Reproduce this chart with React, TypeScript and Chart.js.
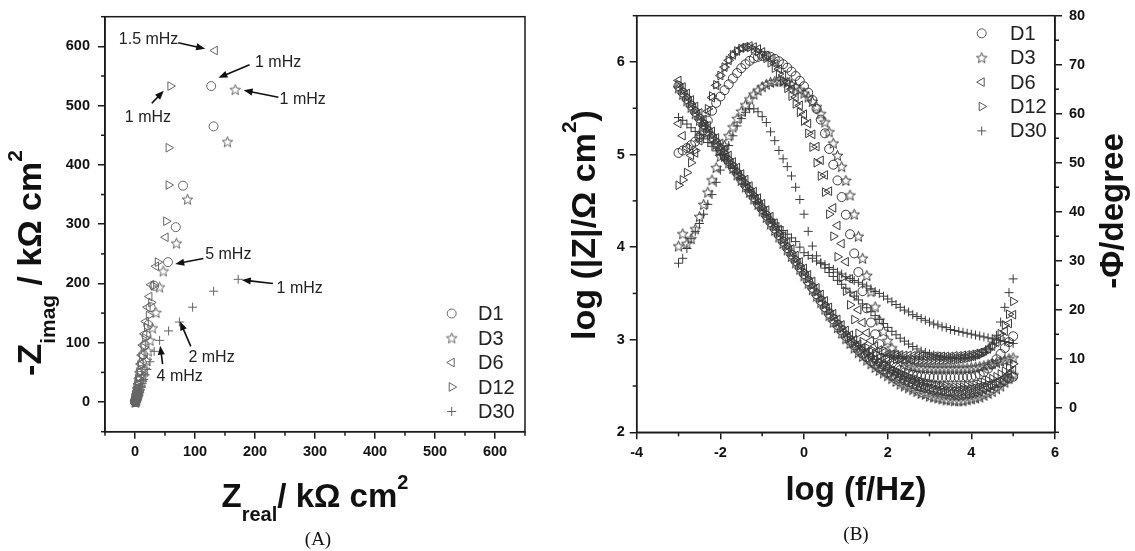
import React, { useEffect, useRef } from 'react';
import { Chart, registerables } from 'chart.js';
import { drawPoint } from 'chart.js/helpers';

Chart.register(...registerables);

const FONT = "'Liberation Sans', Arial, Helvetica, sans-serif";
const SERIF = "'Liberation Serif', 'Times New Roman', serif";
const INK = '#1a1a1a';
const MARK_A = '#666666';
const MARK_B = '#3a3a3a';

const SERIES = ['D1', 'D3', 'D6', 'D12', 'D30'];

// ---------- Panel A : Nyquist (kOhm cm2) ----------
const NYQ_D1_X = [0.2, 0.3, 0.4, 0.5, 0.6, 0.8, 1.0, 1.3, 1.7, 2.2, 2.8, 3.5, 4.4, 5.4, 6.6, 8.0, 9.6, 11.5, 13.5, 16, 19, 22, 26, 32, 55, 68, 80, 131, 127];
const NYQ_D1_Y = [0.1, 0.3, 0.6, 1.0, 1.6, 2.4, 3.5, 5, 7, 9.5, 13, 17, 22, 28, 35, 44, 54, 66, 80, 96, 112, 130, 160, 196, 236, 295, 365, 465, 533];
const NYQ_D3_X = [0.5, 0.7, 0.9, 1.2, 1.5, 1.9, 2.4, 3.0, 3.8, 4.8, 6.0, 7.4, 9.0, 11, 13.5, 16, 19, 22, 25, 29, 35, 41, 47, 69, 87.5, 154, 167];
const NYQ_D3_Y = [0.1, 0.3, 0.6, 1.0, 1.6, 2.5, 3.6, 5.2, 7.3, 10, 14, 19, 25, 33, 43, 55, 70, 86, 104, 125, 151, 194, 221, 268, 342, 439, 527];
const NYQ_D6_X = [0.1, 0.2, 0.3, 0.4, 0.5, 0.7, 0.9, 1.2, 1.5, 2.0, 2.5, 3.2, 4.0, 5.0, 6.2, 7.6, 9.2, 11, 13, 15.5, 18, 21, 24, 27, 35, 51, 133];
const NYQ_D6_Y = [0.1, 0.3, 0.6, 1.0, 1.5, 2.3, 3.4, 5.0, 7, 10, 13.5, 18, 24, 31, 40, 51, 64, 79, 96, 115, 136, 160, 178, 198, 229, 278, 593];
const NYQ_D12_X = [0.1, 0.2, 0.3, 0.4, 0.6, 0.8, 1.0, 1.3, 1.7, 2.2, 2.8, 3.5, 4.3, 5.3, 6.5, 8.0, 9.8, 12, 14.5, 17, 20, 23, 27, 31, 38, 52, 56, 56, 59];
const NYQ_D12_Y = [0.1, 0.3, 0.6, 1.0, 1.5, 2.3, 3.4, 5.0, 7, 10, 13.5, 18, 24, 31, 40, 50, 62, 76, 92, 108, 126, 146, 168, 196, 236, 305, 366, 429, 533];
const NYQ_D30_X = [0.3, 0.5, 0.7, 1.0, 1.3, 1.7, 2.2, 2.8, 3.5, 4.4, 5.5, 6.8, 8.3, 10, 12, 14.5, 17, 20, 25, 32, 41, 56, 74, 96, 131, 172];
const NYQ_D30_Y = [0.1, 0.3, 0.6, 1.0, 1.6, 2.4, 3.5, 5, 7, 9.5, 12.5, 16, 20, 25, 31, 38, 46, 55, 68, 85.5, 104, 120, 135, 160, 187, 207];

const NYQ_TICKS = [0, 100, 200, 300, 400, 500, 600];
const NYQ_MINOR = [-50, 50, 150, 250, 350, 450, 550, 650];

// annotation labels (data units): text anchor, arrow from -> to
const NYQ_NOTES = [
  { text: '1.5 mHz', tx: -27, ty: 611, fx: 72, fy: 606, ex: 117, ey: 596 },
  { text: '1 mHz', tx: 200, ty: 572, fx: 191, fy: 569, ex: 139, ey: 547 },
  { text: '1 mHz', tx: 241, ty: 511, fx: 239, fy: 514, ex: 181, ey: 526 },
  { text: '1 mHz', tx: -17, ty: 479, fx: 28, fy: 504, ex: 48, ey: 525 },
  { text: '5 mHz', tx: 117, ty: 248, fx: 114, fy: 242, ex: 67, ey: 233 },
  { text: '1 mHz', tx: 236, ty: 191, fx: 230, fy: 200, ex: 178, ey: 206 },
  { text: '2 mHz', tx: 89, ty: 75, fx: 93, fy: 94, ex: 75, ey: 136 },
  { text: '4 mHz', tx: 36, ty: 43, fx: 46, fy: 64, ex: 42, ey: 95 },
];

// ---------- Panel B : Bode ----------
const LOG_F = [
  -3, -2.9, -2.8, -2.7, -2.6, -2.5, -2.4, -2.3, -2.2, -2.1,
  -2, -1.9, -1.8, -1.7, -1.6, -1.5, -1.4, -1.3, -1.2, -1.1,
  -1, -0.9, -0.8, -0.7, -0.6, -0.5, -0.4, -0.3, -0.2, -0.1,
  0, 0.1, 0.2, 0.3, 0.4, 0.5, 0.6, 0.7, 0.8, 0.9,
  1, 1.1, 1.2, 1.3, 1.4, 1.5, 1.6, 1.7, 1.8, 1.9,
  2, 2.1, 2.2, 2.3, 2.4, 2.5, 2.6, 2.7, 2.8, 2.9,
  3, 3.1, 3.2, 3.3, 3.4, 3.5, 3.6, 3.7, 3.8, 3.9,
  4, 4.1, 4.2, 4.3, 4.4, 4.5, 4.6, 4.7, 4.8, 4.9, 5,
];

const LOGZ_D1 = [
  5.74, 5.67, 5.60, 5.53, 5.46, 5.39, 5.32, 5.25, 5.19, 5.12,
  5.06, 4.99, 4.93, 4.86, 4.80, 4.73, 4.67, 4.60, 4.54, 4.47,
  4.41, 4.34, 4.27, 4.20, 4.13, 4.06, 3.99, 3.92, 3.85, 3.78,
  3.71, 3.63, 3.56, 3.49, 3.42, 3.35, 3.28, 3.22, 3.16, 3.10,
  3.04, 2.99, 2.94, 2.89, 2.85, 2.81, 2.77, 2.74, 2.71, 2.68,
  2.65, 2.62, 2.60, 2.58, 2.56, 2.54, 2.52, 2.50, 2.49, 2.48,
  2.47, 2.46, 2.45, 2.45, 2.44, 2.44, 2.44, 2.44, 2.45, 2.45,
  2.46, 2.47, 2.48, 2.49, 2.50, 2.51, 2.53, 2.54, 2.56, 2.58, 2.60,
];
const LOGZ_D3 = [
  5.72, 5.65, 5.58, 5.51, 5.44, 5.37, 5.30, 5.24, 5.17, 5.11,
  5.04, 4.98, 4.91, 4.85, 4.78, 4.72, 4.65, 4.59, 4.52, 4.46,
  4.39, 4.32, 4.25, 4.18, 4.11, 4.04, 3.97, 3.90, 3.83, 3.76,
  3.69, 3.61, 3.54, 3.47, 3.40, 3.33, 3.26, 3.19, 3.13, 3.07,
  3.01, 2.96, 2.91, 2.86, 2.82, 2.78, 2.74, 2.70, 2.67, 2.64,
  2.61, 2.58, 2.55, 2.52, 2.50, 2.48, 2.46, 2.44, 2.42, 2.41,
  2.39, 2.38, 2.37, 2.36, 2.35, 2.35, 2.34, 2.34, 2.34, 2.35,
  2.36, 2.37, 2.38, 2.40, 2.42, 2.44, 2.47, 2.50, 2.54, 2.58, 2.62,
];
const LOGZ_D6 = [
  5.80, 5.73, 5.66, 5.59, 5.52, 5.45, 5.38, 5.31, 5.25, 5.18,
  5.12, 5.05, 4.99, 4.92, 4.86, 4.79, 4.73, 4.66, 4.60, 4.53,
  4.47, 4.40, 4.33, 4.26, 4.19, 4.12, 4.05, 3.98, 3.91, 3.84,
  3.77, 3.70, 3.63, 3.56, 3.49, 3.42, 3.35, 3.28, 3.22, 3.16,
  3.10, 3.05, 3.00, 2.95, 2.91, 2.87, 2.83, 2.79, 2.76, 2.73,
  2.70, 2.67, 2.64, 2.61, 2.59, 2.57, 2.55, 2.53, 2.51, 2.49,
  2.48, 2.46, 2.45, 2.44, 2.43, 2.42, 2.41, 2.41, 2.41, 2.41,
  2.42, 2.43, 2.44, 2.46, 2.48, 2.50, 2.53, 2.56, 2.59, 2.63, 2.67,
];
const LOGZ_D12 = [
  5.76, 5.69, 5.62, 5.55, 5.48, 5.41, 5.35, 5.28, 5.21, 5.15,
  5.08, 5.02, 4.95, 4.89, 4.82, 4.76, 4.69, 4.63, 4.56, 4.50,
  4.43, 4.36, 4.29, 4.22, 4.15, 4.08, 4.01, 3.94, 3.87, 3.80,
  3.73, 3.66, 3.59, 3.52, 3.45, 3.38, 3.31, 3.25, 3.19, 3.13,
  3.07, 3.02, 2.97, 2.93, 2.89, 2.85, 2.82, 2.79, 2.76, 2.73,
  2.71, 2.68, 2.66, 2.64, 2.62, 2.60, 2.58, 2.57, 2.55, 2.54,
  2.53, 2.52, 2.51, 2.50, 2.50, 2.49, 2.49, 2.49, 2.49, 2.50,
  2.50, 2.51, 2.52, 2.54, 2.56, 2.58, 2.60, 2.63, 2.66, 2.70, 2.74,
];
const LOGZ_D30 = [
  5.40, 5.37, 5.33, 5.29, 5.25, 5.21, 5.17, 5.13, 5.09, 5.04,
  5.00, 4.95, 4.90, 4.85, 4.80, 4.74, 4.68, 4.62, 4.56, 4.48,
  4.40, 4.35, 4.30, 4.26, 4.22, 4.18, 4.14, 4.10, 4.06, 4.00,
  3.94, 3.91, 3.88, 3.85, 3.83, 3.81, 3.78, 3.76, 3.73, 3.71,
  3.68, 3.66, 3.64, 3.62, 3.60, 3.58, 3.55, 3.52, 3.50, 3.47,
  3.44, 3.41, 3.38, 3.35, 3.32, 3.30, 3.27, 3.25, 3.23, 3.21,
  3.19, 3.17, 3.16, 3.14, 3.13, 3.11, 3.10, 3.09, 3.08, 3.07,
  3.06, 3.05, 3.04, 3.03, 3.02, 3.01, 3.00, 2.99, 2.98, 2.97, 2.96,
];

const PHASE_D1 = [
  52.0, 52.5, 53.0, 53.6, 54.3, 55.2, 56.6, 58.6, 60.6, 62.2,
  63.5, 64.8, 66.0, 67.2, 68.3, 69.3, 70.1, 70.8, 71.3, 71.6,
  71.8, 71.8, 71.6, 71.2, 70.7, 70.1, 69.4, 68.6, 67.7, 66.7,
  65.6, 64.3, 62.8, 61.0, 58.8, 56.0, 52.8, 49.6, 46.4, 43.0,
  39.4, 35.4, 31.5, 27.7, 23.8, 20.3, 17.4, 15.0, 13.0, 11.4,
  10.1, 9.1, 8.3, 7.7, 7.2, 6.9, 6.7, 6.5, 6.4, 6.3,
  6.3, 6.2, 6.2, 6.2, 6.2, 6.2, 6.2, 6.2, 6.2, 6.3,
  6.3, 6.5, 6.8, 7.3, 8.0, 8.9, 9.9, 11.0, 12.2, 13.4, 14.6,
];
const PHASE_D3 = [
  33.0, 35.5, 33.5, 34.5, 36.5, 39.0, 41.5, 44.0, 46.5, 49.0,
  51.3, 53.5, 55.5, 57.3, 59.0, 60.5, 61.8, 63.0, 64.0, 64.8,
  65.5, 66.0, 66.4, 66.6, 66.7, 66.6, 66.4, 66.0, 65.5, 64.9,
  64.2, 63.4, 62.5, 61.4, 60.0, 58.3, 56.3, 54.0, 51.5, 49.2,
  46.4, 43.4, 39.5, 35.0, 30.5, 27.0, 23.7, 20.6, 17.9, 15.6,
  13.7, 12.2, 11.0, 10.0, 9.3, 8.8, 8.5, 8.3, 8.2, 8.2,
  8.1, 8.1, 8.1, 8.1, 8.1, 8.1, 8.1, 8.1, 8.1, 8.1,
  8.2, 8.3, 8.4, 8.6, 8.8, 9.0, 9.2, 9.5, 9.7, 10.0, 10.2,
];
const PHASE_D6 = [
  58.0, 55.5, 53.0, 51.5, 52.0, 54.5, 57.5, 60.5, 63.3, 65.8,
  67.8, 69.5, 70.9, 72.0, 72.8, 73.4, 73.7, 73.8, 73.6, 73.2,
  72.6, 71.9, 71.1, 70.2, 69.1, 67.9, 66.5, 65.0, 63.4, 61.7,
  59.9, 58.0, 55.8, 53.3, 50.5, 47.5, 44.2, 40.8, 37.2, 33.5,
  29.8, 26.3, 23.0, 20.0, 17.4, 15.3, 13.7, 12.6, 11.8, 11.3,
  11.0, 10.9, 10.8, 10.8, 10.7, 10.7, 10.6, 10.6, 10.6, 10.5,
  10.5, 10.5, 10.5, 10.5, 10.5, 10.5, 10.6, 10.6, 10.7, 10.8,
  10.9, 11.1, 11.3, 11.6, 12.0, 12.6, 13.4, 14.4, 15.6, 17.2, 19.0,
];
const PHASE_D12 = [
  45.4, 46.5, 48.0, 50.0, 52.5, 55.3, 58.2, 61.0, 63.6, 65.9,
  67.8, 69.5, 70.9, 72.0, 72.8, 73.3, 73.5, 73.5, 73.2, 72.7,
  72.1, 71.3, 70.4, 69.3, 68.1, 66.7, 65.2, 63.6, 62.0, 60.3,
  58.5, 56.0, 53.2, 50.0, 47.3, 44.0, 39.5, 35.0, 30.8, 26.5,
  23.8, 21.0, 18.0, 15.2, 13.5, 12.3, 11.5, 11.0, 10.6, 10.3,
  10.1, 10.0, 9.9, 9.9, 9.8, 9.8, 9.8, 9.7, 9.7, 9.7,
  9.7, 9.7, 9.7, 9.7, 9.7, 9.8, 9.8, 9.9, 10.0, 10.1,
  10.3, 10.5, 10.8, 11.2, 11.8, 12.6, 13.7, 15.1, 16.9, 19.1, 21.7,
];
const PHASE_D30 = [
  29.5, 30.5, 32.5, 34.5, 36.0, 37.6, 39.5, 41.5, 43.5, 46.0,
  48.5, 51.0, 53.5, 55.5, 57.5, 59.0, 60.3, 61.0, 61.0, 60.4,
  59.4, 58.2, 56.3, 54.5, 52.5, 50.8, 49.2, 47.3, 45.0, 42.5,
  39.5, 36.0, 33.0, 31.0, 29.5, 28.5, 27.6, 26.8, 26.0, 25.2,
  24.4, 23.6, 22.8, 22.0, 21.2, 20.4, 19.6, 18.8, 18.0, 17.2,
  16.4, 15.6, 14.9, 14.2, 13.6, 13.0, 12.5, 12.0, 11.6, 11.3,
  11.0, 10.8, 10.6, 10.4, 10.3, 10.2, 10.1, 10.1, 10.1, 10.2,
  10.3, 10.5, 10.8, 11.3, 12.0, 13.0, 14.8, 17.5, 20.5, 23.5, 26.3,
];

const BODE_X_TICKS = [-4, -2, 0, 2, 4, 6];
const BODE_X_MINOR = [-3, -1, 1, 3, 5];
const BODE_Z_TICKS = [2, 3, 4, 5, 6];
const BODE_Z_MINOR = [2.5, 3.5, 4.5, 5.5, 6.5];
const BODE_P_TICKS = [0, 10, 20, 30, 40, 50, 60, 70, 80];
const BODE_P_MINOR = [-5, 5, 15, 25, 35, 45, 55, 65, 75];

// ---------- helpers ----------
type Mk = { pointStyle: any; radius: number; rotation: number };

function makeStar(color: string): HTMLCanvasElement {
  const c = document.createElement('canvas');
  c.width = 13;
  c.height = 13;
  const g = c.getContext('2d')!;
  g.strokeStyle = color;
  g.lineWidth = 1;
  g.beginPath();
  for (let k = 0; k < 10; k++) {
    const r = k % 2 === 0 ? 5.6 : 2.4;
    const a = -Math.PI / 2 + (k * Math.PI) / 5;
    const x = 6.5 + r * Math.cos(a);
    const y = 7 + r * Math.sin(a);
    if (k === 0) g.moveTo(x, y);
    else g.lineTo(x, y);
  }
  g.closePath();
  g.stroke();
  return c;
}

function markers(color: string): Mk[] {
  const star = makeStar(color);
  return [
    { pointStyle: 'circle', radius: 4.5, rotation: 0 },
    { pointStyle: star, radius: 5, rotation: 0 },
    { pointStyle: 'triangle', radius: 5, rotation: -90 },
    { pointStyle: 'triangle', radius: 5, rotation: 90 },
    { pointStyle: 'cross', radius: 4.5, rotation: 0 },
  ];
}

function ds(label: string, xs: number[], ys: number[], mk: Mk, yAxisID: string, color: string) {
  return {
    label,
    data: xs.map((x, i) => ({ x, y: ys[i] })),
    showLine: false,
    pointStyle: mk.pointStyle,
    pointRadius: mk.radius,
    pointHoverRadius: mk.radius,
    pointRotation: mk.rotation,
    pointBorderColor: color,
    pointBackgroundColor: 'rgba(0,0,0,0)',
    pointBorderWidth: 1,
    yAxisID,
  };
}

function axis(min: number, max: number, ticks: number[], position: string, size: number, padding: number) {
  return {
    type: 'linear',
    position,
    min,
    max,
    afterBuildTicks: (s: any) => {
      s.ticks = ticks.map((v) => ({ value: v }));
    },
    afterFit: (s: any) => {
      if (position === 'bottom') s.height = size;
      else s.width = size;
    },
    grid: { drawOnChartArea: false, drawTicks: true, tickLength: 7, color: INK, lineWidth: 1.5 },
    border: { display: true, color: INK, width: 1.5 },
    ticks: { color: '#111', font: { family: FONT, size: 14.5, weight: 'bold' }, padding, autoSkip: false, maxRotation: 0, minRotation: 0 },
  };
}

type Seg = { t: string; s: number; dy: number };

function drawRich(ctx: CanvasRenderingContext2D, segs: Seg[], cx: number, cy: number, rot: boolean) {
  ctx.save();
  ctx.translate(cx, cy);
  if (rot) ctx.rotate(-Math.PI / 2);
  let total = 0;
  for (const g of segs) {
    ctx.font = `bold ${g.s}px ${FONT}`;
    total += ctx.measureText(g.t).width;
  }
  let x = -total / 2;
  ctx.textAlign = 'left';
  ctx.textBaseline = 'alphabetic';
  ctx.fillStyle = '#111';
  for (const g of segs) {
    ctx.font = `bold ${g.s}px ${FONT}`;
    ctx.fillText(g.t, x, g.dy);
    x += ctx.measureText(g.t).width;
  }
  ctx.restore();
}

function drawLegend(ctx: CanvasRenderingContext2D, mk: Mk[], color: string, sx: number, tx: number, y0: number, dy: number) {
  ctx.save();
  for (let i = 0; i < SERIES.length; i++) {
    const y = y0 + i * dy;
    ctx.strokeStyle = color;
    ctx.fillStyle = 'rgba(0,0,0,0)';
    ctx.lineWidth = 1;
    drawPoint(ctx, { pointStyle: mk[i].pointStyle, radius: mk[i].radius, rotation: mk[i].rotation, borderWidth: 1 } as any, sx, y);
    ctx.fillStyle = '#222';
    ctx.font = `20px ${FONT}`;
    ctx.textAlign = 'left';
    ctx.textBaseline = 'middle';
    ctx.fillText(SERIES[i], tx, y + 1);
  }
  ctx.restore();
}

function minorTicks(chart: any, list: { id: string; values: number[] }[]) {
  const { ctx, chartArea: a, scales } = chart;
  ctx.save();
  ctx.strokeStyle = INK;
  ctx.lineWidth = 1.5;
  for (const m of list) {
    const sc = scales[m.id];
    for (const v of m.values) {
      const p = sc.getPixelForValue(v);
      ctx.beginPath();
      if (m.id === 'x') {
        ctx.moveTo(p, a.bottom);
        ctx.lineTo(p, a.bottom + 4);
      } else if (m.id === 'y') {
        ctx.moveTo(a.left, p);
        ctx.lineTo(a.left - 4, p);
      } else {
        ctx.moveTo(a.right, p);
        ctx.lineTo(a.right + 4, p);
      }
      ctx.stroke();
    }
  }
  ctx.strokeRect(a.left, a.top, a.right - a.left, a.bottom - a.top);
  ctx.restore();
}

function caption(ctx: CanvasRenderingContext2D, text: string, x: number, y: number) {
  ctx.save();
  ctx.font = `19px ${SERIF}`;
  ctx.fillStyle = '#111';
  ctx.textAlign = 'center';
  ctx.textBaseline = 'alphabetic';
  ctx.fillText(text, x, y);
  ctx.restore();
}

function leftConfig(): any {
  const mk = markers(MARK_A);
  const xs = [NYQ_D1_X, NYQ_D3_X, NYQ_D6_X, NYQ_D12_X, NYQ_D30_X];
  const ys = [NYQ_D1_Y, NYQ_D3_Y, NYQ_D6_Y, NYQ_D12_Y, NYQ_D30_Y];
  const decor = {
    id: 'decorA',
    afterDraw(chart: any) {
      const { ctx, scales } = chart;
      minorTicks(chart, [
        { id: 'x', values: NYQ_MINOR },
        { id: 'y', values: NYQ_MINOR },
      ]);
      ctx.save();
      for (const n of NYQ_NOTES) {
        const x0 = scales.x.getPixelForValue(n.fx);
        const y0 = scales.y.getPixelForValue(n.fy);
        const x1 = scales.x.getPixelForValue(n.ex);
        const y1 = scales.y.getPixelForValue(n.ey);
        const ang = Math.atan2(y1 - y0, x1 - x0);
        ctx.strokeStyle = '#111';
        ctx.fillStyle = '#111';
        ctx.lineWidth = 1.6;
        ctx.beginPath();
        ctx.moveTo(x0, y0);
        ctx.lineTo(x1 - 6 * Math.cos(ang), y1 - 6 * Math.sin(ang));
        ctx.stroke();
        ctx.beginPath();
        ctx.moveTo(x1, y1);
        ctx.lineTo(x1 - 9 * Math.cos(ang) + 3.5 * Math.sin(ang), y1 - 9 * Math.sin(ang) - 3.5 * Math.cos(ang));
        ctx.lineTo(x1 - 9 * Math.cos(ang) - 3.5 * Math.sin(ang), y1 - 9 * Math.sin(ang) + 3.5 * Math.cos(ang));
        ctx.closePath();
        ctx.fill();
        ctx.font = `16px ${FONT}`;
        ctx.textAlign = 'left';
        ctx.textBaseline = 'middle';
        ctx.fillStyle = '#222';
        ctx.fillText(n.text, scales.x.getPixelForValue(n.tx), scales.y.getPixelForValue(n.ty));
      }
      ctx.restore();
      drawLegend(ctx, mk, MARK_A, 451.7, 478, 313.5, 24.5);
      drawRich(ctx, [
        { t: 'Z', s: 33, dy: 0 },
        { t: 'real', s: 20, dy: 14 },
        { t: '/ kΩ cm', s: 33, dy: 0 },
        { t: '2', s: 20, dy: -18 },
      ], 315, 507, false);
      drawRich(ctx, [
        { t: '-Z', s: 34, dy: 0 },
        { t: 'imag', s: 21, dy: 14 },
        { t: ' / kΩ cm', s: 34, dy: 0 },
        { t: '2', s: 21, dy: -19 },
      ], 41, 263, true);
      caption(ctx, '(A)', 318, 545);
    },
  };
  return {
    type: 'scatter',
    data: { datasets: SERIES.map((s, i) => ds(s, xs[i], ys[i], mk[i], 'y', MARK_A)) },
    options: {
      responsive: false,
      animation: false,
      events: [],
      layout: { padding: { top: 12, right: 35, left: 0, bottom: 0 } },
      plugins: { legend: { display: false }, tooltip: { enabled: false } },
      scales: {
        x: axis(-50, 650, NYQ_TICKS, 'bottom', 119.3, 5),
        y: axis(-50, 650, NYQ_TICKS, 'left', 105, 8),
      },
    },
    plugins: [decor],
  };
}

function rightConfig(): any {
  const mk = markers(MARK_B);
  const zs = [LOGZ_D1, LOGZ_D3, LOGZ_D6, LOGZ_D12, LOGZ_D30];
  const ps = [PHASE_D1, PHASE_D3, PHASE_D6, PHASE_D12, PHASE_D30];
  const datasets: any[] = [];
  SERIES.forEach((s, i) => {
    datasets.push(ds(s + ' |Z|', LOG_F, zs[i], mk[i], 'y', MARK_B));
    datasets.push(ds(s + ' phase', LOG_F, ps[i], mk[i], 'y2', MARK_B));
  });
  const legendMk = markers('#555555');
  const decor = {
    id: 'decorB',
    afterDraw(chart: any) {
      const { ctx } = chart;
      minorTicks(chart, [
        { id: 'x', values: BODE_X_MINOR },
        { id: 'y', values: BODE_Z_MINOR },
        { id: 'y2', values: BODE_P_MINOR },
      ]);
      drawLegend(ctx, legendMk, '#555555', 421.7, 450, 33.3, 24.4);
      drawRich(ctx, [{ t: 'log (f/Hz)', s: 33, dy: 0 }], 296, 500, false);
      drawRich(ctx, [
        { t: 'log (|Z|/Ω cm', s: 34, dy: 0 },
        { t: '2', s: 21, dy: -19 },
        { t: ')', s: 34, dy: 0 },
      ], 35, 225, true);
      drawRich(ctx, [{ t: '-Φ/degree', s: 33, dy: 0 }], 563, 211, true);
      caption(ctx, '(B)', 296, 540);
    },
  };
  return {
    type: 'scatter',
    data: { datasets },
    options: {
      responsive: false,
      animation: false,
      events: [],
      layout: { padding: { top: 13.3, right: 0, left: 0, bottom: 0 } },
      plugins: { legend: { display: false }, tooltip: { enabled: false } },
      scales: {
        x: axis(-4, 6, BODE_X_TICKS, 'bottom', 118.7, 5),
        y: axis(2, 6.5, BODE_Z_TICKS, 'left', 76.7, 5),
        y2: axis(-5, 80, BODE_P_TICKS, 'right', 80, 7),
      },
    },
    plugins: [decor],
  };
}

export default function App() {
  const leftRef = useRef<HTMLCanvasElement>(null);
  const rightRef = useRef<HTMLCanvasElement>(null);
  useEffect(() => {
    const c1 = new Chart(leftRef.current as HTMLCanvasElement, leftConfig());
    const c2 = new Chart(rightRef.current as HTMLCanvasElement, rightConfig());
    return () => {
      c1.destroy();
      c2.destroy();
    };
  }, []);
  return (
    <div style={{ position: 'absolute', left: 0, top: 0, width: 1135, height: 551, background: '#fff', overflow: 'hidden' }}>
      <canvas ref={leftRef} width={560} height={551} style={{ position: 'absolute', left: 0, top: 0 }} />
      <canvas ref={rightRef} width={575} height={551} style={{ position: 'absolute', left: 560, top: 0 }} />
    </div>
  );
}
